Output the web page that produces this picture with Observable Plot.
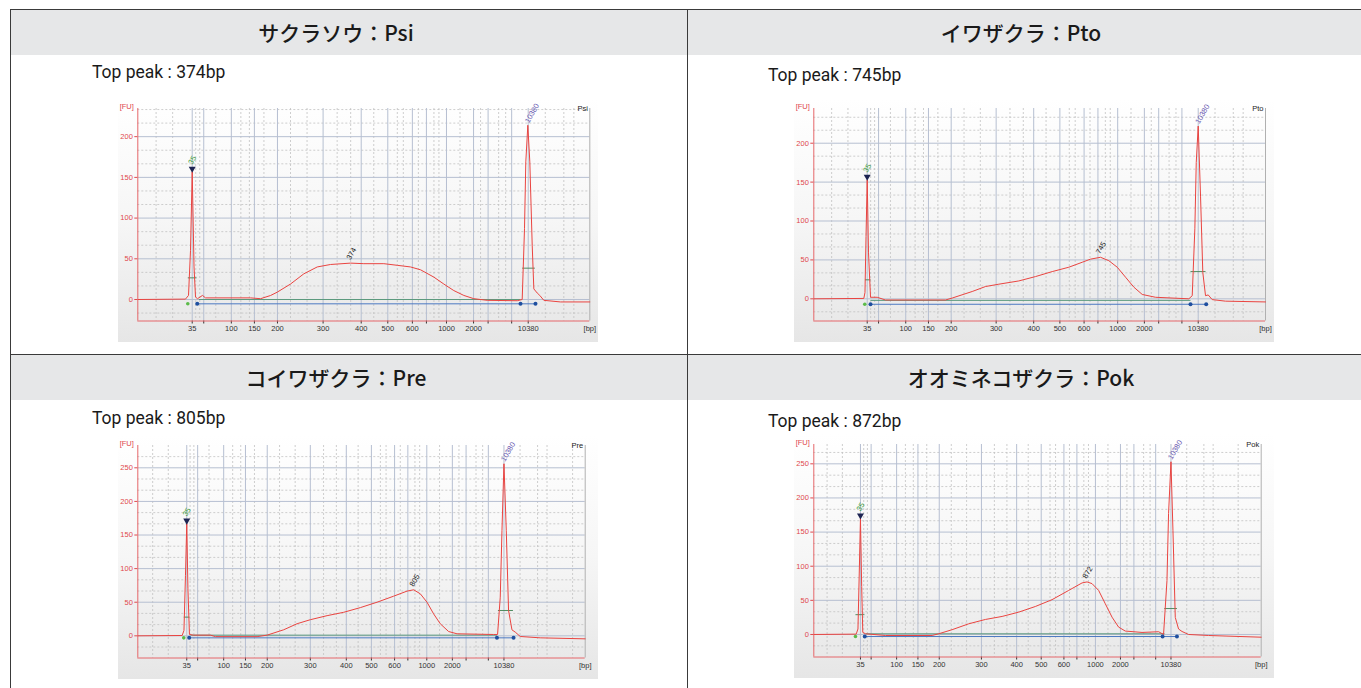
<!DOCTYPE html>
<html><head><meta charset="utf-8">
<script src="https://cdn.jsdelivr.net/npm/d3@7"></script>
<script src="https://cdn.jsdelivr.net/npm/@observablehq/plot@0.6"></script>
<style>
html,body{margin:0;padding:0;background:#fff;}
#fig{position:relative;width:1361px;height:688px;overflow:hidden;}
.band{position:absolute;background:#e6e7e8;}
.hl{position:absolute;background:#3a3a3a;}
.title{position:absolute;height:45px;line-height:45px;text-align:center;font-family:"Noto Sans CJK JP",sans-serif;font-size:21px;font-weight:500;color:#1a1a1a;white-space:nowrap;}
.peak{position:absolute;font-family:Roboto,sans-serif;font-size:17.5px;color:#1a1a1a;white-space:nowrap;line-height:22px;}
.chart{position:absolute;}
</style></head><body><div id="fig"></div>
<script>
// ---- ladder (bp sizes and their migration times, s) ----
const ladderBp   = [35, 50, 100, 150, 200, 300, 400, 500, 600, 700, 1000, 2000, 3000, 7000, 10380];
const ladderTime = [43.0, 45.3, 50.8, 55.4, 60.0, 69.1, 76.7, 82.0, 86.9, 89.7, 93.7, 99.1, 102.0, 106.7, 110.0];
const labeledBp  = [35, 100, 150, 200, 300, 400, 500, 600, 1000, 2000, 10380];
const minorTime  = [35.8, 39.1, 43.7, 44.5, 47.7, 52.7, 54.4, 57.3, 62.6, 65.9, 71.9, 74.6, 79.2, 83.9, 85.1, 88.1, 91.2, 92.2, 96.4, 100.5, 104.1, 105.5, 113.4, 117.1, 119.1, 124.5];
const yTicks200 = [0, 50, 100, 150, 200];
const yTicks250 = [0, 50, 100, 150, 200, 250];

// ---- panels ----
const panelNames = ["サクラソウ", "イワザクラ", "コイワザクラ", "オオミネコザクラ"];
const panelCodes = ["Psi", "Pto", "Pre", "Pok"];
const topPeakBp  = [374, 745, 805, 872];
const topPeakFU  = [44.7, 53.4, 68.5, 77];

// ---- electropherograms: time (s) and fluorescence (FU) ----
const psiTime = [32.2, 41.66, 42.26, 42.66, 43.0, 43.36, 43.66, 44.06, 45.05, 45.65, 54.62, 56.62, 58.61, 59.95, 62.60, 65.25, 67.93, 70.58, 74.57, 77.22, 81.21, 83.88, 86.53, 88.53, 91.18, 93.17, 95.16, 97.16, 99.15, 101.82, 107.81, 108.80, 109.26, 109.52, 109.92, 110.32, 110.80, 111.12, 111.79, 112.31, 113.11, 116.44, 122.28];
const psiFU   = [0, 0.5, 5, 60, 157, 40, 3, 1, 5, 2, 2, 1, 4.9, 9, 19, 31.5, 40, 43, 44.7, 44, 44, 42, 40, 36.5, 27.5, 19, 11, 5, 1, -1, -1.5, 0, 87, 169, 214, 169, 66, 13, 8, 5, -1, -3, -3];

const ptoTime = [32.19, 42.31, 42.55, 42.76, 43.0, 43.26, 43.67, 45.02, 46.70, 58.85, 60.21, 64.25, 66.95, 69.64, 73.69, 77.07, 80.45, 83.81, 86.52, 88.20, 90.23, 91.91, 93.61, 95.29, 96.97, 98.67, 101.36, 108.10, 108.79, 109.32, 109.60, 110.0, 110.47, 110.93, 111.48, 112.02, 112.83, 115.53, 123.62];
const ptoFU   = [0, 0.5, 8, 80, 153, 60, 2, 2, -1.5, -1.5, 1, 9.4, 15.8, 18.8, 23, 28.6, 35, 40.6, 47, 51, 53.4, 49, 40.6, 27.8, 15, 5.6, 2, 0, 4, 90, 175, 222, 132, 34, 4, 5, -1, -3, -4];

const preTime = [32.66, 42.03, 42.41, 42.73, 43.0, 43.25, 43.57, 44.41, 48.00, 49.06, 57.86, 59.97, 63.48, 66.30, 69.11, 72.64, 76.14, 79.67, 83.19, 86.70, 89.52, 90.92, 92.33, 93.75, 95.14, 96.55, 98.31, 100.08, 107.80, 108.65, 109.22, 109.58, 110.0, 110.49, 110.97, 111.69, 112.39, 113.44, 117.66, 127.16];
const preFU   = [0, 0.5, 8, 90, 167, 70, 2, 1, 1, -1.2, -1.2, 1, 9, 18, 24, 30, 35, 42, 50, 59, 66.5, 68.5, 62.5, 50, 32.7, 17.9, 6.4, 3, 2, 2, 57.5, 157, 256, 157, 37.7, 8.9, 5.5, -1, -3, -4.5];

const pokTime = [32.93, 42.07, 42.46, 42.74, 43.0, 43.26, 43.50, 44.08, 48.39, 58.46, 59.88, 62.77, 66.35, 69.96, 73.56, 77.14, 80.74, 84.34, 87.92, 90.81, 91.89, 92.97, 94.39, 95.83, 97.28, 98.70, 100.14, 103.75, 107.33, 108.40, 109.14, 109.48, 110.0, 110.43, 110.93, 111.64, 112.38, 113.80, 118.11, 129.47];
const pokFU   = [0, 0.5, 8, 90, 170, 70, 3, 1, -1.5, -1.5, 1, 7, 15.6, 22, 26.4, 32.7, 41, 51, 64.5, 75.5, 77, 74.5, 64.5, 45, 25.4, 10.8, 5, 3, 4, 0, 79, 177, 253, 152, 25, 8, 4.4, 0, -1.5, -4];

// ---- baseline / region annotations: [from s, to s, FU] ----
const psiGreenLine = [44.32, 108.46, 0],   psiBlueLine = [44.0, 111.45, -5.3];
const ptoGreenLine = [43.67, 108.44, -2],  ptoBlueLine = [43.67, 111.62, -7];
const preGreenLine = [43.78, 108.52, 1],   preBlueLine = [43.51, 112.03, -3];
const pokGreenLine = [44.08, 108.62, 1],   pokBlueLine = [43.93, 111.29, -3];
const psiGreenDot = [42.12, -5.3], ptoGreenDot = [42.51, -7], preGreenDot = [42.37, -3], pokGreenDot = [41.92, -3];
const psiBlueDots = [44.0, 108.46, 111.45], ptoBlueDots = [43.67, 108.44, 111.62], preBlueDots = [43.51, 108.52, 112.03], pokBlueDots = [43.93, 108.19, 111.29];
// peak width markers [from s, to s, FU]
const psiWidths = [[42.12, 43.86, 26.6], [108.80, 111.32, 38.5]];
const ptoWidths = [[42.55, 43.67, 24.4], [108.44, 111.48, 35]];
const preWidths = [[42.37, 43.57, 27.8], [108.73, 111.90, 37.7]];
const pokWidths = [[41.92, 43.86, 29], [108.56, 111.29, 38]];

const bpToTime = d3.scaleLinear(ladderBp, ladderTime);
const timeLabel = new Map(labeledBp.map(b => [bpToTime(b), String(b)]));

const fig = document.getElementById("fig");
function el(cls, css, text) {
  const d = document.createElement("div");
  d.className = cls;
  Object.assign(d.style, css);
  if (text !== undefined) d.textContent = text;
  fig.appendChild(d);
  return d;
}

// header bands
el("band", {left: "11px", top: "10px", width: "676px", height: "45px"});
el("band", {left: "688px", top: "10px", width: "673px", height: "45px"});
el("band", {left: "11px", top: "355px", width: "676px", height: "45px"});
el("band", {left: "688px", top: "355px", width: "673px", height: "45px"});
// frame lines
el("hl", {left: "10px", top: "9px", width: "1351px", height: "1px"});
el("hl", {left: "10px", top: "354px", width: "1351px", height: "1px"});
el("hl", {left: "10px", top: "9px", width: "1px", height: "679px"});
el("hl", {left: "687px", top: "9px", width: "1px", height: "679px"});

const layout = [
  {tx: 10, tw: 652, ty: 10, px: 92, py: 61, cx: 118, cy: 98},
  {tx: 688, tw: 666, ty: 10, px: 768, py: 64, cx: 794, cy: 98},
  {tx: 10, tw: 652, ty: 355, px: 92, py: 407, cx: 118, cy: 435},
  {tx: 688, tw: 666, ty: 355, px: 768, py: 410, cx: 794, cy: 434}
];

const panels = [
  {time: psiTime, fu: psiFU, xDomain: [32.15, 122.28], yDomain: [-26.4, 234.6], yTicks: yTicks200, mr: 8.7,
   green: psiGreenLine, blue: psiBlueLine, gdot: psiGreenDot, bdots: psiBlueDots, widths: psiWidths},
  {time: ptoTime, fu: ptoFU, xDomain: [32.19, 123.62], yDomain: [-28.5, 244.6], yTicks: yTicks200, mr: 9,
   green: ptoGreenLine, blue: ptoBlueLine, gdot: ptoGreenDot, bdots: ptoBlueDots, widths: ptoWidths},
  {time: preTime, fu: preFU, xDomain: [32.66, 127.16], yDomain: [-33.0, 283.2], yTicks: yTicks250, mr: 13.3,
   green: preGreenLine, blue: preBlueLine, gdot: preGreenDot, bdots: preBlueDots, widths: preWidths},
  {time: pokTime, fu: pokFU, xDomain: [32.93, 129.47], yDomain: [-33.0, 278.3], yTicks: yTicks250, mr: 13.3,
   green: pokGreenLine, blue: pokBlueLine, gdot: pokGreenDot, bdots: pokBlueDots, widths: pokWidths}
];

function chart(p, i) {
  const [x0, x1] = p.xDomain, [y0, y1] = p.yDomain;
  const data = p.time.map((t, k) => ({t, fu: p.fu[k]}));
  const lo = data.filter(d => d.t < 50), hi = data.filter(d => d.t > 105);
  const markLo = lo.reduce((a, b) => b.fu > a.fu ? b : a);
  const markHi = hi.reduce((a, b) => b.fu > a.fu ? b : a);
  const minorY = d3.range(-50 / 3, y1, 50 / 3).filter(v => v > y0 && Math.abs(v - Math.round(v / 50) * 50) > 1e-6);
  const minorX = minorTime.filter(t => t > x0 && t < x1);
  const labeledTime = labeledBp.map(bpToTime);
  const unlabeledTime = ladderBp.filter(b => !labeledBp.includes(b)).map(bpToTime);
  const red = "#e5676a";
  const seg = {x1: d => d[0], x2: d => d[1], y1: d => d[2], y2: d => d[2]};
  return Plot.plot({
    width: 480, height: 244,
    marginLeft: 19.3, marginRight: p.mr, marginTop: 10, marginBottom: 21.5,
    x: {domain: [x0, x1], label: null},
    y: {domain: [y0, y1], label: null},
    style: {background: "linear-gradient(to bottom, #ffffff 0%, #f6f6f6 50%, #e6e6e6 100%)", fontFamily: "'Liberation Sans', sans-serif", fontSize: "7.5px", overflow: "visible"},
    marks: [
      Plot.ruleY(minorY, {stroke: "#c2c2c2", strokeDasharray: "2,2", strokeWidth: 0.8}),
      Plot.ruleX(minorX, {stroke: "#c2c2c2", strokeDasharray: "2,2", strokeWidth: 0.8}),
      Plot.ruleY(p.yTicks, {stroke: "#b6bfd1", strokeWidth: 1}),
      Plot.ruleX(ladderTime, {stroke: "#b6bfd1", strokeWidth: 1}),
      Plot.ruleX([x1], {stroke: "#b0b0b0"}),
      Plot.axisY(p.yTicks, {tickSize: 3, tickPadding: 2, color: "#e0484c", fontSize: 7.5, label: null}),
      Plot.axisX(labeledTime, {tickSize: 3, tickPadding: 2, color: "#333", fontSize: 7.5, label: null, tickFormat: t => timeLabel.get(t)}),
      Plot.axisX(unlabeledTime, {tickSize: 3, color: "#333", label: null, tickFormat: () => ""}),
      Plot.ruleX([x0], {stroke: red}),
      Plot.ruleY([y0], {stroke: red}),
      Plot.link([p.green], {...seg, stroke: "#5c9a7e", strokeWidth: 1}),
      Plot.link([p.blue], {...seg, stroke: "#4d79c2", strokeWidth: 1}),
      Plot.link(p.widths, {...seg, stroke: "#4f8c60", strokeWidth: 1}),
      Plot.line(data, {x: "t", y: "fu", stroke: "#ea4440", strokeWidth: 1}),
      Plot.dot([p.gdot], {x: d => d[0], y: d => d[1], fill: "#5cbb4a", r: 1.8}),
      Plot.dot(p.bdots, {x: d => d, y: () => p.blue[2], fill: "#1f4f9f", r: 2}),
      Plot.dot([markLo], {x: "t", y: "fu", symbol: "triangle", rotate: 180, fill: "#1d2452", r: 2.6, dy: -3}),
      Plot.text([markLo], {x: "t", y: "fu", text: () => "35", rotate: -60, textAnchor: "start", fill: "#3c9a3c", fontSize: 7.5, dx: -2, dy: -8}),
      Plot.text([markHi], {x: "t", y: "fu", text: () => "10380", rotate: -60, textAnchor: "start", fill: "#6656b0", fontSize: 7.5, dx: -1, dy: -3}),
      Plot.text([{t: bpToTime(topPeakBp[i]), fu: topPeakFU[i]}], {x: "t", y: "fu", text: () => String(topPeakBp[i]), rotate: -60, textAnchor: "start", fill: "#222", fontSize: 7.5, dx: -3, dy: -4}),
      Plot.text([panelCodes[i]], {text: d => d, frameAnchor: "top-right", textAnchor: "end", lineAnchor: "middle", dx: -2, fill: "#222", fontSize: 7.5}),
      Plot.text(["[FU]"], {text: d => d, frameAnchor: "top-left", textAnchor: "end", lineAnchor: "middle", dx: -4, dy: -2, fill: "#e0484c", fontSize: 7.5}),
      Plot.text(["[bp]"], {text: d => d, frameAnchor: "bottom-right", textAnchor: "middle", lineAnchor: "top", dy: 5, fill: "#333", fontSize: 7.5})
    ]
  });
}

panels.forEach((p, i) => {
  const L = layout[i];
  el("title", {left: L.tx + "px", top: L.ty + "px", width: L.tw + "px"}, panelNames[i] + "：" + panelCodes[i]);
  el("peak", {left: L.px + "px", top: L.py + "px"}, "Top peak : " + topPeakBp[i] + "bp");
  const box = el("chart", {left: L.cx + "px", top: L.cy + "px"});
  box.appendChild(chart(p, i));
});
</script></body></html>
